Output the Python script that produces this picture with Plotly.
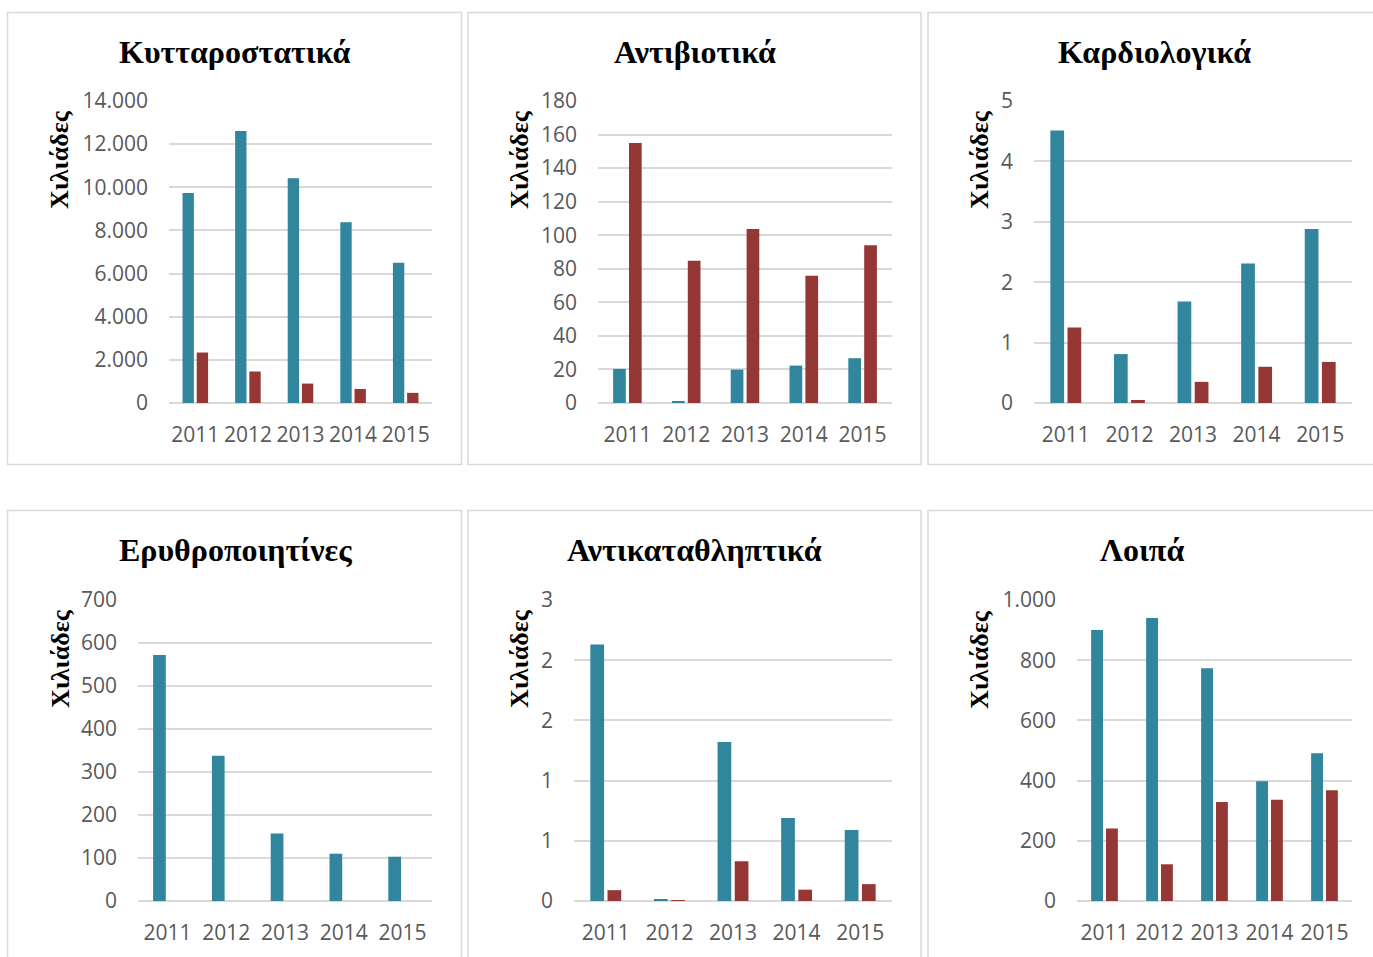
import plotly.graph_objects as go

W, H = 1373, 957

years = ["2011", "2012", "2013", "2014", "2015"]

# Values in thousands for each drug group: first and second series
cytostatic_a = [9740, 12610, 10420, 8380, 6500]
cytostatic_b = [2340, 1460, 900, 650, 470]
antibiotic_a = [20.3, 0.8, 19.9, 22.3, 26.7]
antibiotic_b = [154.9, 84.8, 103.7, 75.9, 94.0]
cardio_a = [4.51, 0.81, 1.68, 2.31, 2.88]
cardio_b = [1.25, 0.05, 0.35, 0.60, 0.68]
epo_a = [572, 338, 157, 110, 103]
epo_b = [0, 0, 0, 0, 0]
antidep_a = [2.13, 0.014, 1.32, 0.69, 0.59]
antidep_b = [0.09, 0.003, 0.33, 0.094, 0.14]
other_a = [900, 940, 773, 398, 491]
other_b = [241, 122, 329, 336, 368]

titles = ["Κυτταροστατικά", "Αντιβιοτικά", "Καρδιολογικά",
          "Ερυθροποιητίνες", "Αντικαταθληπτικά", "Λοιπά"]
y_title = "Χιλιάδες"

y_max = [14000, 180, 5, 700, 2.5, 1000]
y_step = [2000, 20, 1, 100, 0.5, 200]
antidep_ticktext = ["0", "1", "1", "2", "2", "3"]

TEAL = "#31859C"
RED = "#953735"
GRID = "#d9d9d9"
TICK = "#595959"

# pixel layout: panel frame, plot area, title centre, axis-title centre
panels = [
    dict(frame=(7.5, 12.5, 461.5, 464.5), plot=(169, 101, 432, 403), title=(235, 52), ytitle=(59, 160)),
    dict(frame=(468, 12.5, 921, 464.5), plot=(598, 101, 892, 403), title=(694.5, 52), ytitle=(519, 160)),
    dict(frame=(928, 12.5, 1380, 464.5), plot=(1034, 101, 1352, 403), title=(1154, 52), ytitle=(979, 160)),
    dict(frame=(7.5, 510.5, 461.5, 970), plot=(138, 600, 432, 901), title=(235, 550), ytitle=(60, 659)),
    dict(frame=(468, 510.5, 921, 970), plot=(574, 600, 892, 901), title=(694.5, 550), ytitle=(519, 659)),
    dict(frame=(928, 510.5, 1380, 970), plot=(1077, 600, 1352, 901), title=(1142, 550), ytitle=(979, 660)),
]

series = [
    (cytostatic_a, cytostatic_b),
    (antibiotic_a, antibiotic_b),
    (cardio_a, cardio_b),
    (epo_a, epo_b),
    (antidep_a, antidep_b),
    (other_a, other_b),
]

fig = go.Figure()
shapes = []
annotations = []
layout_axes = {}

for i, (p, (a, b)) in enumerate(zip(panels, series)):
    n = i + 1
    xa = "x" if n == 1 else f"x{n}"
    ya = "y" if n == 1 else f"y{n}"
    fig.add_trace(go.Bar(x=years, y=a, marker=dict(color=TEAL, line=dict(width=0)),
                         xaxis=xa, yaxis=ya, showlegend=False, name="A"))
    fig.add_trace(go.Bar(x=years, y=b, marker=dict(color=RED, line=dict(width=0)),
                         xaxis=xa, yaxis=ya, showlegend=False, name="B"))

    x0, y0, x1, y1 = p["plot"]
    xkey = "xaxis" if n == 1 else f"xaxis{n}"
    ykey = "yaxis" if n == 1 else f"yaxis{n}"
    layout_axes[xkey] = dict(
        domain=[x0 / W, x1 / W], anchor=ya, type="category",
        showgrid=False, showline=False, zeroline=False, ticks="",
        tickfont=dict(family="Open Sans", size=21, color=TICK),
        ticklabelstandoff=17, fixedrange=True, automargin=False,
    )
    tickvals = [round(k * y_step[i], 6) for k in range(int(round(y_max[i] / y_step[i])) + 1)]
    yax = dict(
        domain=[1 - y1 / H, 1 - y0 / H], anchor=xa,
        range=[0, y_max[i]], tickvals=tickvals,
        showgrid=True, gridcolor=GRID, gridwidth=1.5,
        zeroline=True, zerolinecolor=GRID, zerolinewidth=1.5,
        showline=False, ticks="",
        tickfont=dict(family="Open Sans", size=21, color=TICK),
        ticklabelstandoff=20, tickformat=",.0f", fixedrange=True, automargin=False,
    )
    if i == 4:
        yax["ticktext"] = antidep_ticktext
    layout_axes[ykey] = yax

    fx0, fy0, fx1, fy1 = p["frame"]
    shapes.append(dict(type="rect", xref="paper", yref="paper",
                       x0=fx0 / W, x1=fx1 / W, y0=1 - fy1 / H, y1=1 - fy0 / H,
                       line=dict(color=GRID, width=1.5), fillcolor="rgba(0,0,0,0)"))

    tx, ty = p["title"]
    annotations.append(dict(text=f"<b>{titles[i]}</b>", xref="paper", yref="paper",
                            x=tx / W, y=1 - ty / H, xanchor="center", yanchor="middle",
                            showarrow=False,
                            font=dict(family="Liberation Serif", size=32, color="black")))
    ax_, ay_ = p["ytitle"]
    annotations.append(dict(text=f"<b>{y_title}</b>", xref="paper", yref="paper",
                            x=ax_ / W, y=1 - ay_ / H, xanchor="center", yanchor="middle",
                            textangle=-90, showarrow=False,
                            font=dict(family="Liberation Serif", size=26, color="black")))

fig.update_layout(
    width=W, height=H, margin=dict(l=0, r=0, t=0, b=0, autoexpand=False),
    paper_bgcolor="white", plot_bgcolor="white",
    barmode="group", bargap=0.46, bargroupgap=0.2,
    separators=",.",
    shapes=shapes, annotations=annotations,
    **layout_axes,
)

fig.write_html("out.html", config=dict(displayModeBar=False))
